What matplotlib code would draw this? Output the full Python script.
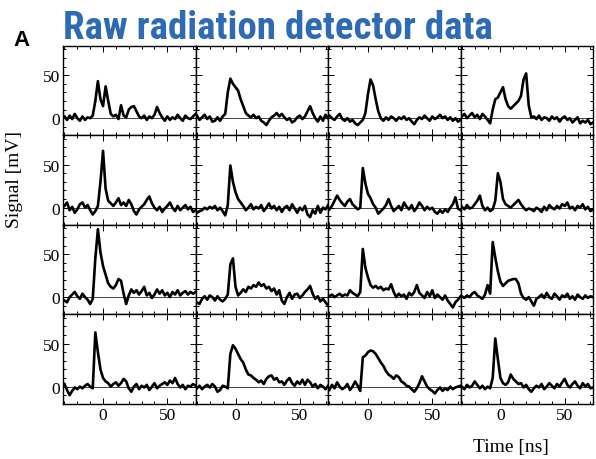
import numpy as np
import matplotlib
matplotlib.use('Agg')
import matplotlib.pyplot as plt
from matplotlib import font_manager
from matplotlib.ticker import MultipleLocator

SERIF = ['Liberation Serif', 'DejaVu Serif']
TITLE_COLOR = '#2E6BB4'

# pick the narrowest bold sans that is installed for the title
TITLE_FONT = 'DejaVu Sans'
for fam in ['Roboto Condensed', 'Open Sans Condensed', 'Liberation Sans Narrow',
            'DejaVu Sans Condensed', 'Roboto', 'Inter']:
    try:
        font_manager.findfont(font_manager.FontProperties(family=fam, weight='bold'),
                              fallback_to_default=False)
        TITLE_FONT = fam
        break
    except ValueError:
        pass

# time axis shared by all traces [ns]
time_ns = np.arange(-30, 73, 2)

# signal traces [mV] (row by row)
r1c1 = [2, -2, 3, -1, 5, 0, -3, 2, -2, 1, 0, 3, 20, 43, 22, 14, 37, 20, 5, 2, 4, -1, 15, 3, 1, 10,
        13, 14, 8, 2, 0, 3, -2, 2, 0, 4, 13, 6, 1, -3, 2, -2, 1, -1, 4, 0, -3, 3, 0, -1, 2, 5]
r1c2 = [3, -2, 1, 4, -1, 2, -4, -3, 1, -3, 2, 5, 30, 46, 40, 36, 32, 22, 14, 6, 3, 1, 4, 0, 2, -3,
        -5, -8, -3, 1, 3, 6, 2, 5, 1, -2, 0, -5, -3, 1, 3, -1, 2, 8, 14, 6, 0, -4, 2, -3, 4, 0]
r1c3 = [3, 0, -2, 2, 5, -1, -3, 0, -4, -2, -6, -8, -5, -2, 6, 28, 45, 38, 22, 8, 0, -3, 1, -2, 2, 0,
        -3, 1, -1, 2, -2, 0, -4, -7, -2, 1, -1, 3, 0, -3, 2, -1, 1, 4, 0, 2, -2, 1, -3, 0, -4, -2]
r1c4 = [2, 5, 0, 3, 6, 1, 4, -1, 5, 2, -2, -6, 10, 22, 24, 30, 36, 22, 14, 11, 14, 17, 20, 26, 45, 52,
        15, 1, 2, -1, 3, -2, 1, 0, -3, 2, -1, 1, -4, 0, 2, -2, 0, -5, -2, 1, -6, -3, -5, -2, -7, -5]

r2c1 = [2, 6, -3, 1, -6, -2, 4, 6, 0, 3, -3, -8, -4, 2, 30, 66, 22, 8, 5, 2, 6, 11, 3, 6, 2, 9,
        4, -4, -8, -2, 1, 4, 9, 13, 5, 0, -3, 1, -5, -1, 2, 6, 0, -4, 2, -3, 0, 3, -2, 1, -5, -3]
r2c2 = [-6, -4, -3, 0, -2, 1, -1, 2, -3, 0, -4, -9, 3, 49, 30, 18, 10, 6, 2, -3, 0, 4, -2, 1, -1, 3,
        -4, 0, 5, -1, 2, -3, 1, -5, 0, 2, -3, 4, -1, -6, 0, -3, 2, -8, -11, -3, -7, 2, -6, 0, -2, 3]
r2c3 = [-2, 2, 8, 14, 9, 5, 2, 7, 10, 4, 1, -2, 0, 46, 28, 16, 11, 4, 0, -7, -4, -1, 3, 10, 2, -4,
        -1, 2, -3, 6, 1, -2, 3, -4, 0, 6, 2, -3, 1, -2, 0, -5, -7, -3, -6, -2, -5, 0, 4, 12, -1, -3]
r2c4 = [1, -2, 3, -1, 0, 4, 8, 14, 2, -3, 0, -4, -2, 8, 40, 30, 10, 4, 2, 0, 3, 6, 9, 4, 0, -3,
        -1, -2, -4, 0, -2, -5, 1, -3, 3, 0, -2, 2, -1, 4, 2, 6, -1, 1, -3, 2, 0, 4, -2, 1, -4, -2]

r3c1 = [-4, -6, 0, 3, 6, 1, -2, 4, 0, -3, -8, -2, 45, 79, 52, 36, 26, 16, 12, 10, 14, 21, 19, 4, -8, 2,
        9, 5, 8, 3, 7, 12, 2, 5, -1, 3, 9, 4, 8, 2, 5, 0, 6, 3, 8, 2, 5, 7, 3, 6, 4, 6]
r3c2 = [-6, -8, -2, 1, -3, 2, 0, -4, 1, -3, -5, -2, 3, 38, 45, 12, 2, 5, 9, 6, 12, 10, 14, 12, 17, 13,
        15, 10, 12, 7, 10, 3, 8, -4, -8, 0, 5, -2, 3, 4, -1, 2, 6, 9, 13, 4, -2, 1, -5, -2, -6, -10]
r3c3 = [1, 3, 0, 2, 4, 1, 3, 2, 8, 5, 3, 1, 6, 56, 34, 23, 14, 11, 13, 10, 12, 8, 10, 9, 15, 6,
        0, 4, 1, 3, -2, 5, 2, 6, 14, 5, 2, -1, 6, 1, 8, -1, 3, 0, -3, 2, -4, -8, -12, -6, -3, 1]
r3c4 = [1, -1, 2, 0, 4, 6, 2, 0, -2, 3, 14, 4, 64, 46, 30, 18, 13, 16, 19, 20, 21, 21, 16, 4, -1, -3,
        0, -5, -10, -2, 0, 3, -1, 5, 0, -2, 4, 1, -3, 2, 0, 4, -2, 1, -3, 3, 0, -2, 2, -1, 1, 0]

r4c1 = [3, -4, -10, -5, -1, -3, 0, -2, 1, 3, 0, -2, 63, 40, 20, 10, 6, 4, 0, 3, 5, 1, 4, 9, 6, -2,
        -6, 0, 3, -3, 1, -1, 2, -4, 0, 4, -2, 1, 3, 5, 2, 7, 4, 10, 3, -1, 2, -3, 1, 0, 3, 1]
r4c2 = [-2, 1, -3, 0, 2, -1, 3, 0, -6, -4, 1, 0, -2, 38, 48, 44, 38, 32, 28, 20, 14, 13, 10, 8, 5, 7,
        3, 9, 12, 13, 8, 10, 5, 6, 2, 7, 10, 4, 1, 6, 3, 8, 2, 8, 5, 0, 3, -2, 2, 0, -3, 1]
r4c3 = [-4, 2, -2, 5, 0, -3, -1, 3, -4, 0, 6, 1, -5, 34, 36, 40, 42, 41, 38, 33, 28, 24, 18, 14, 12, 9,
        13, 11, 6, 4, 1, 0, -3, -6, -2, 4, 12, 6, 0, -3, -5, -8, -4, -1, -5, -2, -4, 0, -3, -1, 0, 1]
r4c4 = [0, -3, 2, -1, 1, 6, 2, -2, 1, -3, 0, -2, 10, 56, 32, 10, 4, 2, 5, 14, 9, 6, 3, 4, -1, 2,
        -3, -6, -2, 1, -1, 3, -3, 0, 4, 1, -2, 3, 0, 5, 9, 2, -1, 3, 6, 1, -2, 4, 0, 3, -2, -1]

traces = [[r1c1, r1c2, r1c3, r1c4],
          [r2c1, r2c2, r2c3, r2c4],
          [r3c1, r3c2, r3c3, r3c4],
          [r4c1, r4c2, r4c3, r4c4]]

fig, axes = plt.subplots(4, 4, figsize=(5.96, 4.6), dpi=100, sharex=True, sharey=True)
fig.patch.set_facecolor('white')
fig.subplots_adjust(left=0.106, right=0.995, top=0.898, bottom=0.12, hspace=0, wspace=0)

for i in range(4):
    for j in range(4):
        ax = axes[i, j]
        ax.axhline(0, color='#444444', linewidth=0.7, zorder=1)
        ax.plot(time_ns, traces[i][j], color='black', linewidth=1.9, zorder=2)
        ax.set_xlim(-31, 72)
        ax.set_ylim(-20, 84)
        ax.xaxis.set_major_locator(MultipleLocator(50))
        ax.xaxis.set_minor_locator(MultipleLocator(10))
        ax.yaxis.set_major_locator(MultipleLocator(50))
        ax.yaxis.set_minor_locator(MultipleLocator(10))
        ax.tick_params(which='both', direction='in', top=True, right=True,
                       labelsize=12.5, pad=2, width=0.7)
        ax.tick_params(which='major', length=4)
        ax.tick_params(which='minor', length=2)
        for lab in ax.get_xticklabels() + ax.get_yticklabels():
            lab.set_family(SERIF)
        for sp in ax.spines.values():
            sp.set_linewidth(1.0)

title = fig.text(0.106, 0.916, 'Raw radiation detector data', fontsize=30, fontweight='bold',
                 color=TITLE_COLOR, family=[TITLE_FONT, 'DejaVu Sans'],
                 ha='left', va='baseline')
# shrink the title until it spans the same width as in the reference (~427 px)
renderer = fig.canvas.get_renderer()
w = title.get_window_extent(renderer).width
if w > 430:
    title.set_fontsize(30 * 430 / w)

fig.text(0.036, 0.913, 'A', fontsize=16, fontweight='bold', color='black',
         family=['Liberation Sans', 'DejaVu Sans'], ha='center', va='center')
fig.text(0.024, 0.61, 'Signal [mV]', fontsize=14, family=SERIF, rotation=90,
         ha='center', va='center')
fig.text(0.857, 0.028, 'Time [ns]', fontsize=14, family=SERIF, ha='center', va='center')

fig.savefig('out.png', dpi=100, facecolor='white')
